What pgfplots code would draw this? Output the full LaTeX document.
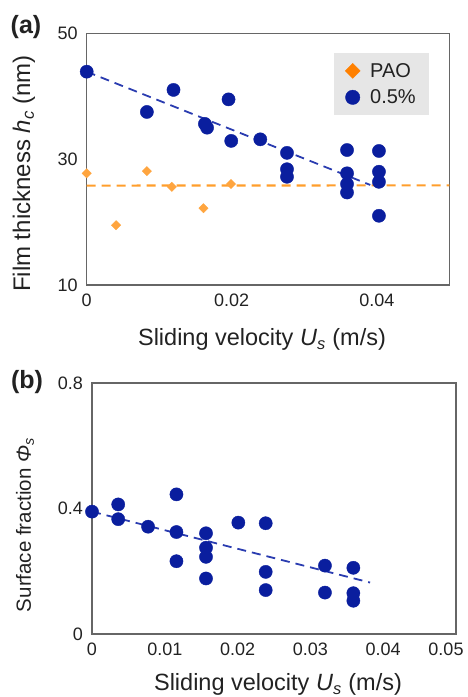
\documentclass[border=0pt]{standalone}
\usepackage{fontspec}
\setmainfont{Liberation Sans}
\usepackage{pgfplots}
\pgfplotsset{compat=1.18}
\definecolor{navy}{HTML}{0A1E9E}
\definecolor{lineblue}{HTML}{2A3CB0}
\definecolor{legorange}{HTML}{FF8000}
\definecolor{ptorange}{HTML}{FFA53F}
\definecolor{lnorange}{HTML}{FF9E2C}
\definecolor{axisgray}{HTML}{666666}
\definecolor{leggray}{HTML}{E6E6E6}
\definecolor{txt}{HTML}{222222}
\newcommand{\tickfont}{\fontsize{18}{21}\selectfont}
\newcommand{\xlabfont}{\fontsize{23.5}{27}\selectfont}
\newcommand{\legfont}{\fontsize{20}{24}\selectfont}
\pgfplotsset{
  common/.style={
    scale only axis,
    axis line style={draw=axisgray, line width=1.2pt},
    tick style={draw=none},
    ticklabel style={font=\tickfont, text=txt},
    /pgf/number format/assume math mode=true,
    scaled x ticks=false, scaled y ticks=false,
    yticklabel style={xshift=-5.5pt},
    xticklabel style={yshift=-5pt},
    clip=false,
  },
  bluedot/.style={only marks, mark=*, mark size=6.6pt, color=navy, mark options={draw=navy, fill=navy}},
  oradot/.style={only marks, mark=square*, mark size=3.3pt, color=ptorange, mark options={rotate=45, draw=ptorange, fill=ptorange}},
}
\begin{document}
\begin{tikzpicture}[x=1pt,y=1pt]
\useasboundingbox (0,0) rectangle (467,697);
% ---------------- (a)
\begin{axis}[common,
  at={(86.7pt,412pt)}, anchor=south west,
  width=362.6pt, height=251.7pt,
  xmin=0, xmax=0.05, ymin=10, ymax=50,
  xtick={0,0.02,0.04}, xticklabels={0,0.02,0.04},
  ytick={10,30,50}, yticklabels={10,30,50},
  legend style={at={(0.682,0.922)}, anchor=north west, fill=leggray, draw=none,
    font=\legfont, text=txt, inner xsep=11pt, inner ysep=8pt, row sep=7pt,
    /tikz/every odd column/.append style={column sep=8pt}},
  legend cell align=left,
]
\addlegendimage{only marks, mark=square*, mark size=5.3pt, color=legorange, mark options={rotate=45, fill=legorange, draw=legorange}}
\addlegendentry{PAO}
\addlegendimage{only marks, mark=*, mark size=7.2pt, color=navy, mark options={fill=navy, draw=navy}}
\addlegendentry{0.5\%}
\addplot[forget plot, color=lnorange, line width=2.1pt, dash pattern=on 9pt off 6pt] coordinates {(0,25.8) (0.05,25.83)};
\addplot[forget plot, color=lineblue, line width=1.8pt, dash pattern=on 9pt off 6pt] coordinates {(0,43.9) (0.0391,25.9)};
\addplot[forget plot, oradot] coordinates {
(0,27.75) (0.00405,19.5) (0.0083,28.1) (0.01174,25.6) (0.0161,22.2) (0.0199,26.05)
};
\addplot[forget plot, bluedot] coordinates {
(0,43.9) (0.0083,37.5) (0.01197,41.0) (0.0163,35.6) (0.0166,35.0) (0.01956,39.5)
(0.01993,32.9) (0.02394,33.15) (0.02762,31.0) (0.02762,28.4) (0.02762,27.2)
(0.0359,31.45) (0.0359,27.75) (0.0359,26.05) (0.0359,24.7)
(0.0403,31.3) (0.0403,28.0) (0.0403,26.4) (0.0403,21.0)
};
\end{axis}
% ---------------- (b)
\begin{axis}[common,
  at={(92pt,63pt)}, anchor=south west,
  width=364pt, height=251pt,
  xmin=0, xmax=0.05, ymin=0, ymax=0.8,
  xtick={0,0.01,0.02,0.03,0.04}, xticklabels={0,0.01,0.02,0.03,0.04},
  extra x ticks={0.05}, extra x tick labels={0.05},
  extra x tick style={xticklabel style={xshift=-10pt}},
  ytick={0,0.4,0.8}, yticklabels={0,0.4,0.8},
]
\addplot[color=lineblue, line width=1.8pt, dash pattern=on 9pt off 6pt] coordinates {(0,0.39) (0.0382,0.164)};
\addplot[bluedot] coordinates {
(0,0.39) (0.0036,0.413) (0.0036,0.366) (0.0077,0.342)
(0.0116,0.445) (0.0116,0.325) (0.0116,0.232)
(0.01566,0.321) (0.01566,0.275) (0.01566,0.246) (0.01566,0.177)
(0.0201,0.355) (0.02386,0.353) (0.02386,0.198) (0.02386,0.140)
(0.032,0.218) (0.032,0.132)
(0.0359,0.211) (0.0359,0.130) (0.0359,0.106)
};
\end{axis}
% ---------------- labels
\node[font=\fontsize{25}{29}\selectfont\bfseries, text=txt] at (26,670) {(a)};
\node[font=\fontsize{25}{29}\selectfont\bfseries, text=txt] at (27,315) {(b)};
\node[rotate=90, font=\fontsize{24}{28}\selectfont, text=txt] at (24,523.5) {Film thickness \textit{h}\textsubscript{\textit{c}} (nm)};
\node[rotate=90, font=\fontsize{20.5}{24}\selectfont, text=txt] at (25,172) {Surface fraction \textit{Φ}\textsubscript{\textit{s}}};
\node[font=\xlabfont, text=txt, anchor=base] at (262,351.5) {Sliding velocity \textit{U}\textsubscript{\textit{s}} (m/s)};
\node[font=\xlabfont, text=txt, anchor=base] at (278,6.5) {Sliding velocity \textit{U}\textsubscript{\textit{s}} (m/s)};
\end{tikzpicture}
\end{document}
